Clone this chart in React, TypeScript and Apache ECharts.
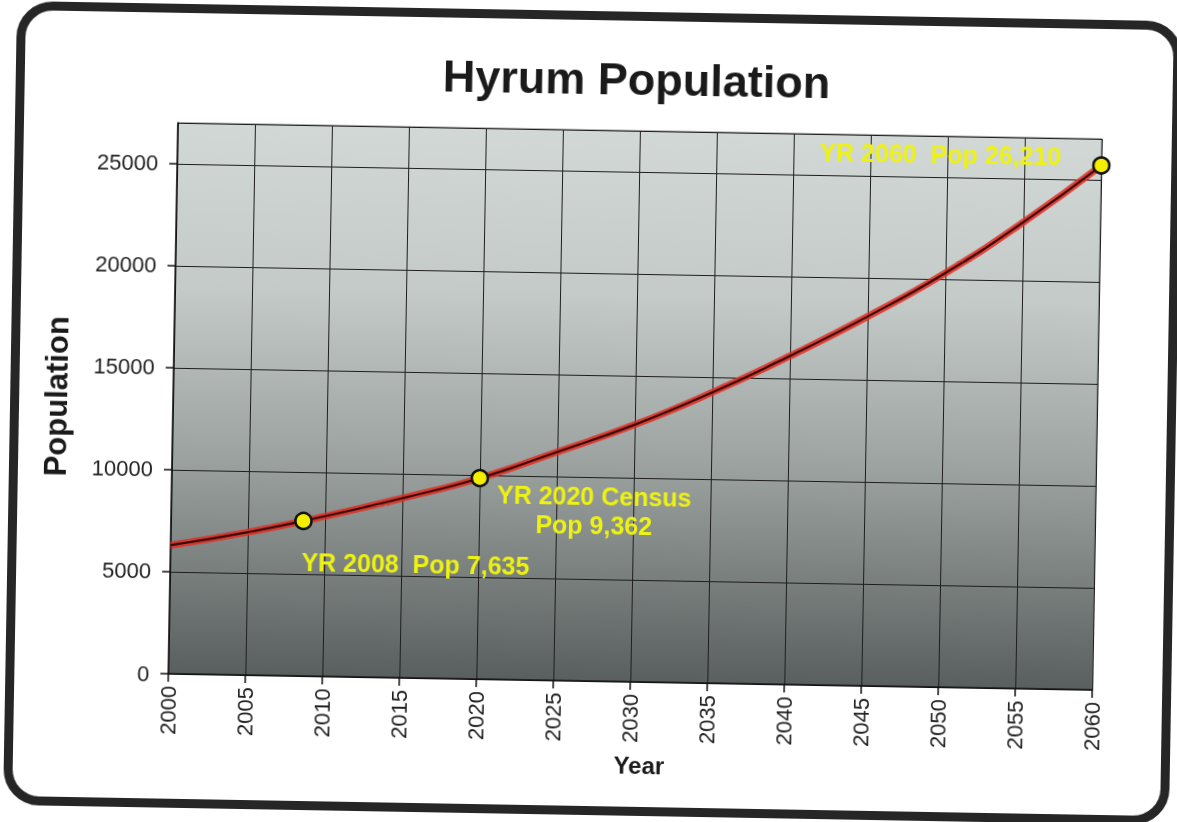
import React, { useEffect, useRef } from "react";
import * as echarts from "echarts";

const years = [2000, 2005, 2010, 2015, 2020, 2025, 2030, 2035, 2040, 2045, 2050, 2055, 2060];
const population = [6300, 7000, 7850, 8800, 9850, 11200, 12600, 14250, 16100, 18100, 20300, 22850, 25700];
const markerYears = [2008.6, 2020, 2060];
const markerPops = [7600, 9850, 25700];
const markerLabels = ["YR 2008  Pop 7,635", "YR 2020 Census\nPop 9,362", "YR 2060  Pop 26,210"];

const FONT = "'Liberation Sans', Arial, Helvetica, sans-serif";

export default function App() {
  const ref = useRef<HTMLDivElement>(null);

  useEffect(() => {
    if (!ref.current) return;
    const chart = echarts.init(ref.current, null, { renderer: "svg" });
    const lineData = years.map((y, i) => [y, population[i]]);
    const labelCfg = [
      { position: [8, 38], align: "left", verticalAlign: "top", lineHeight: 25 },
      { position: [124, 11], align: "center", verticalAlign: "top", lineHeight: 29 },
      { position: [-31, -12], align: "right", verticalAlign: "top", lineHeight: 25 },
    ];
    const markerData = markerYears.map((y, i) => ({
      value: [y, markerPops[i]],
      label: {
        show: true,
        formatter: markerLabels[i],
        ...labelCfg[i],
      },
    }));
    chart.setOption({
      animation: false,
      textStyle: { fontFamily: FONT },
      title: {
        text: "Hyrum Population",
        left: 432,
        top: 51,
        textStyle: { fontFamily: FONT, fontSize: 45, fontWeight: "bold", color: "#1a1a1a" },
      },
      grid: {
        left: 173,
        top: 130,
        right: 80,
        bottom: 141,
        show: true,
        borderColor: "#666",
        borderWidth: 1,
        backgroundColor: new echarts.graphic.LinearGradient(0, 0, 0, 1, [
          { offset: 0, color: "#d1d8d5" },
          { offset: 0.3, color: "#c3cac7" },
          { offset: 0.6, color: "#9ca3a0" },
          { offset: 1, color: "#585f5e" },
        ]),
      },
      xAxis: {
        type: "value",
        min: 2000,
        max: 2060,
        interval: 5,
        name: "Year",
        nameLocation: "middle",
        nameGap: 71,
        nameTextStyle: { fontFamily: FONT, fontSize: 24, fontWeight: "bold", color: "#1a1a1a", padding: [0, 0, 0, 20] },
        axisLine: { show: true, onZero: false, lineStyle: { color: "#111", width: 1.5 } },
        axisTick: { show: true, length: 8, lineStyle: { color: "#111", width: 1.5 } },
        axisLabel: {
          rotate: 90,
          margin: 12,
          fontFamily: FONT,
          fontSize: 22,
          color: "#222",
          formatter: (v: number) => String(v),
        },
        splitLine: { show: true, lineStyle: { color: "#1e1e1e", width: 1 } },
      },
      yAxis: {
        type: "value",
        min: 0,
        max: 27000,
        interval: 5000,
        name: "Population",
        nameLocation: "middle",
        nameGap: 101,
        nameTextStyle: { fontFamily: FONT, fontSize: 31, fontWeight: "bold", color: "#1a1a1a" },
        axisLine: { show: true, lineStyle: { color: "#111", width: 1.5 } },
        axisTick: { show: true, length: 8, lineStyle: { color: "#111", width: 1.5 } },
        axisLabel: {
          margin: 19,
          fontFamily: FONT,
          fontSize: 22,
          color: "#222",
          showMaxLabel: false,
          formatter: (v: number) => (v % 5000 === 0 ? String(v) : ""),
        },
        splitLine: { show: true, lineStyle: { color: "#1e1e1e", width: 1 } },
      },
      series: [
        {
          type: "line",
          data: lineData,
          smooth: true,
          symbol: "none",
          lineStyle: { color: "rgba(226,45,35,0.85)", width: 7 },
          z: 3,
        },
        {
          type: "line",
          data: lineData,
          smooth: true,
          symbol: "none",
          lineStyle: { color: "#3a0805", width: 2.2 },
          z: 4,
        },
        {
          type: "scatter",
          data: markerData,
          symbol: "circle",
          symbolSize: 16,
          itemStyle: { color: "#f4ef00", borderColor: "#111", borderWidth: 2.5, opacity: 1 },
          label: {
            show: true,
            fontFamily: FONT,
            fontSize: 25,
            fontWeight: "bold",
            color: "#eef212",
          },
          z: 5,
        },
      ],
    });
    return () => chart.dispose();
  }, []);

  return (
    <div
      style={{
        position: "fixed",
        left: 0,
        top: 0,
        width: 1177,
        height: 822,
        background: "#fff",
        transform: "rotate(1deg)",
        transformOrigin: "588px 411px",
      }}
    >
      <div
        style={{
          position: "absolute",
          left: 10,
          top: 11,
          width: 1166,
          height: 804,
          boxSizing: "border-box",
          border: "9px solid #262626",
          borderRadius: 36,
        }}
      />
      <div ref={ref} style={{ position: "absolute", left: 0, top: 0, width: 1177, height: 822 }} />
    </div>
  );
}
